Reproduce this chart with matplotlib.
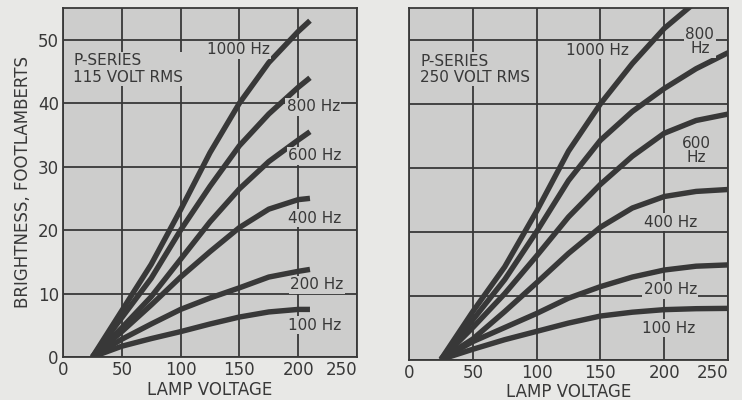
import matplotlib.pyplot as plt

# 115 volt panel
v115 = [25, 50, 75, 100, 125, 150, 175, 200, 210]
b115 = {
    "1000 Hz": [0, 7.3, 14.6, 23.2, 32.2, 40.0, 46.4, 51.3, 53.0],
    "800 Hz": [0, 6.2, 12.4, 20.0, 26.9, 33.3, 38.3, 42.5, 44.0],
    "600 Hz": [0, 4.6, 9.5, 15.4, 21.3, 26.5, 30.8, 34.2, 35.5],
    "400 Hz": [0, 4.0, 8.2, 12.6, 16.6, 20.4, 23.3, 24.8, 25.0],
    "200 Hz": [0, 2.8, 5.2, 7.5, 9.3, 10.9, 12.6, 13.5, 13.8],
    "100 Hz": [0, 1.7, 2.9, 4.0, 5.2, 6.3, 7.1, 7.5, 7.5],
}
lab115 = {
    "1000 Hz": (149, 48.4), "800 Hz": (213, 39.4), "600 Hz": (214, 31.7),
    "400 Hz": (214, 21.9), "200 Hz": (216, 11.4), "100 Hz": (214, 5.0),
}

# 250 volt panel
v250 = [25, 50, 75, 100, 125, 150, 175, 200, 225, 250]
b250 = {
    "1000 Hz": [0, 7.5, 14.5, 23.2, 32.6, 40.0, 46.3, 51.8, 56.0, None],
    "800 Hz": [0, 6.2, 12.5, 20.0, 28.0, 34.3, 38.8, 42.4, 45.5, 48.0],
    "600 Hz": [0, 5.0, 10.3, 16.2, 22.3, 27.4, 31.8, 35.4, 37.4, 38.4],
    "400 Hz": [0, 3.2, 7.5, 12.0, 16.6, 20.7, 23.7, 25.5, 26.3, 26.6],
    "200 Hz": [0, 2.8, 5.0, 7.2, 9.6, 11.4, 12.9, 14.0, 14.6, 14.8],
    "100 Hz": [0, 1.6, 3.1, 4.4, 5.7, 6.8, 7.4, 7.8, 7.95, 8.0],
}
lab250 = {
    "1000 Hz": (148, 48.4), "800\nHz": (228, 49.7), "600\nHz": (225.5, 32.7),
    "400 Hz": (204.7, 21.5), "200 Hz": (204.7, 10.9), "100 Hz": (203.4, 4.9),
}

xticks = [0, 50, 100, 150, 200, 250]
yticks = [0, 10, 20, 30, 40, 50]

paper = "#e8e8e6"
face = "#cdcdcc"
ink = "#383838"

fig = plt.figure(figsize=(7.42, 4.0), dpi=100, facecolor=paper)
ax1 = fig.add_axes([63 / 742, 43 / 400, 294 / 742, 349 / 400])
ax2 = fig.add_axes([409 / 742, 40.5 / 400, 319 / 742, 351.5 / 400])


def draw(ax, volts, curves, labels, title, show_y):
    ax.set_facecolor(face)
    ax.set_xlim(0, 250)
    ax.set_ylim(0, 55)
    ax.set_xticks(xticks)
    ax.set_yticks(yticks)
    ax.grid(True, color=ink, linewidth=1.3)
    ax.set_axisbelow(True)
    for s in ax.spines.values():
        s.set_color(ink)
        s.set_linewidth(1.3)
    ax.tick_params(length=0, labelsize=12, colors=ink, pad=3)
    if not show_y:
        ax.tick_params(labelleft=False)
    # the last voltage label sits inside the panel edge, as in the original
    ax.get_xticklabels()[-1].set_horizontalalignment("right")
    for name, ys in curves.items():
        xs = [v for v, y in zip(volts, ys) if y is not None]
        yy = [y for y in ys if y is not None]
        ax.plot(xs, yy, color=ink, linewidth=3.9, solid_capstyle="butt",
                solid_joinstyle="round")
    for name, (x, y) in labels.items():
        ax.text(x, y, name, ha="center", va="center", fontsize=11, color=ink,
                linespacing=0.9,
                bbox=dict(facecolor=face, edgecolor="none", pad=1.0))
    ax.text(8.8, 45.4, title, ha="left", va="center", fontsize=11, color=ink,
            linespacing=1.1,
            bbox=dict(facecolor=face, edgecolor="none", pad=1.0))
    ax.set_xlabel("LAMP VOLTAGE", fontsize=12, color=ink, labelpad=1)


draw(ax1, v115, b115, lab115, "P-SERIES\n115 VOLT RMS", True)
draw(ax2, v250, b250, lab250, "P-SERIES\n250 VOLT RMS", False)
ax1.set_ylabel("BRIGHTNESS, FOOTLAMBERTS", fontsize=12, color=ink, labelpad=4)

fig.savefig("out.png", dpi=100, facecolor=paper)
